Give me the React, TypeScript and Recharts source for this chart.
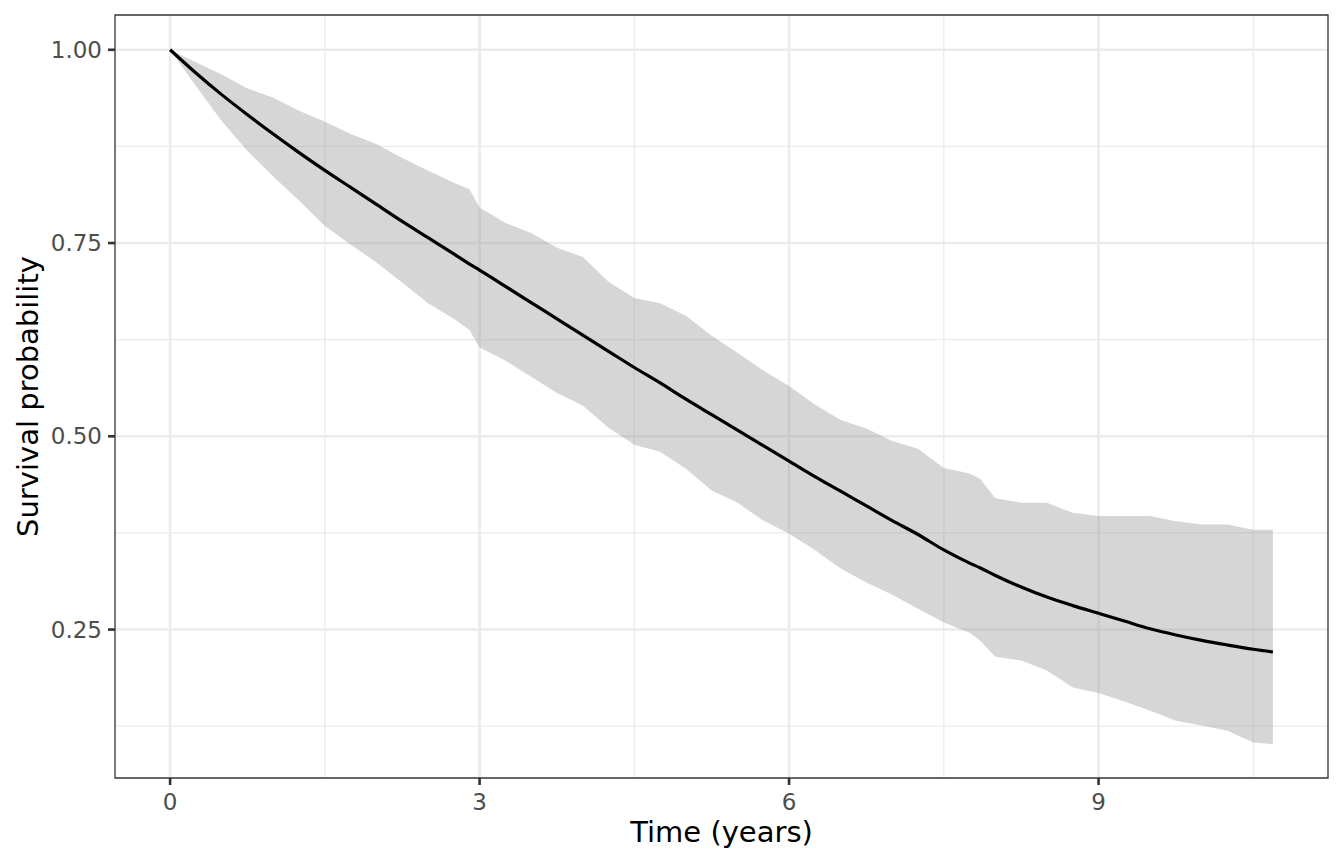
import {
  ComposedChart,
  Area,
  Line,
  XAxis,
  YAxis,
  CartesianGrid,
  ReferenceArea,
  Label,
} from "recharts";

// Survival fit with 95% band
const TIME = [
  0, 0.25, 0.5, 0.75, 1, 1.25, 1.5, 1.75, 2, 2.25, 2.5, 2.75, 2.9, 3, 3.25,
  3.5, 3.75, 4, 4.25, 4.5, 4.75, 5, 5.25, 5.5, 5.75, 6, 6.25, 6.5, 6.75, 7,
  7.25, 7.5, 7.75, 7.85, 8, 8.25, 8.5, 8.75, 9, 9.25, 9.5, 9.75, 10, 10.25,
  10.5, 10.69,
];
const ESTIMATE = [
  1, 0.97, 0.942, 0.916, 0.891, 0.867, 0.844, 0.822, 0.8, 0.778, 0.757, 0.736,
  0.723, 0.715, 0.694, 0.673, 0.652, 0.631, 0.61, 0.589, 0.569, 0.548, 0.528,
  0.508, 0.488, 0.468, 0.448, 0.429, 0.41, 0.391, 0.373, 0.353, 0.336, 0.33,
  0.32, 0.305, 0.292, 0.281, 0.271, 0.261, 0.251, 0.243, 0.236, 0.23, 0.2245,
  0.221,
];
const LOWER = [
  1, 0.953, 0.908, 0.869, 0.836, 0.805, 0.772, 0.748, 0.725, 0.699, 0.672,
  0.652, 0.638, 0.615, 0.598, 0.577, 0.556, 0.54, 0.511, 0.489, 0.48, 0.458,
  0.43, 0.414, 0.391, 0.374, 0.353, 0.329, 0.311, 0.295, 0.277, 0.259, 0.246,
  0.236, 0.215, 0.21, 0.197, 0.175, 0.168, 0.157, 0.145, 0.132, 0.126, 0.119,
  0.104, 0.102,
];
const UPPER = [
  1, 0.984, 0.968, 0.95, 0.938, 0.921, 0.907, 0.891, 0.878, 0.86, 0.844, 0.828,
  0.82, 0.796, 0.776, 0.763, 0.744, 0.732, 0.7, 0.679, 0.672, 0.656, 0.63,
  0.608, 0.585, 0.565, 0.541, 0.521, 0.51, 0.494, 0.484, 0.459, 0.452, 0.445,
  0.42, 0.414, 0.414, 0.401, 0.397, 0.397, 0.397, 0.39, 0.386, 0.386, 0.379,
  0.379,
];

const X_TICKS = [0, 3, 6, 9];
const X_MINOR = [1.5, 4.5, 7.5, 10.5];
const Y_TICKS = [0.25, 0.5, 0.75, 1];
const Y_MINOR = [0.125, 0.375, 0.625, 0.875];
const X_DOMAIN = [-0.534, 11.224];
const Y_DOMAIN = [0.058, 1.045];

const data = TIME.map((t, i) => ({
  time: t,
  estimate: ESTIMATE[i],
  band: [LOWER[i], UPPER[i]],
}));

const FONT = "'DejaVu Sans', sans-serif";
const tickStyle = { fill: "#4d4d4d", fontSize: 23, fontFamily: FONT };
const tickLine = { stroke: "#333333", strokeWidth: 2.6 };

export default function App() {
  return (
    <div style={{ position: "absolute", left: 0, top: 0, background: "#fff" }}>
      <ComposedChart
        width={1344}
        height={864}
        data={data}
        margin={{ top: 15, right: 16, bottom: 0, left: 0 }}
      >
        <CartesianGrid
          stroke="#ebebeb"
          strokeWidth={1.3}
          verticalValues={X_MINOR}
          horizontalValues={Y_MINOR}
        />
        <CartesianGrid
          stroke="#ebebeb"
          strokeWidth={2.6}
          verticalValues={X_TICKS}
          horizontalValues={Y_TICKS}
        />
        <XAxis
          dataKey="time"
          type="number"
          domain={X_DOMAIN}
          allowDataOverflow
          ticks={X_TICKS}
          height={86}
          tick={tickStyle}
          tickSize={7}
          tickMargin={9}
          tickLine={tickLine}
          axisLine={false}
        >
          <Label
            value="Time (years)"
            position="insideBottom"
            offset={22}
            style={{ fill: "#000", fontSize: 29, fontFamily: FONT }}
          />
        </XAxis>
        <YAxis
          type="number"
          domain={Y_DOMAIN}
          allowDataOverflow
          ticks={Y_TICKS}
          tickFormatter={(v) => v.toFixed(2)}
          width={115}
          tick={tickStyle}
          tickSize={7}
          tickMargin={6}
          tickLine={tickLine}
          axisLine={false}
        >
          <Label
            value="Survival probability"
            angle={-90}
            position="insideLeft"
            offset={28}
            style={{
              fill: "#000",
              fontSize: 29,
              fontFamily: FONT,
              textAnchor: "middle",
            }}
          />
        </YAxis>
        <Area
          dataKey="band"
          type="linear"
          stroke="none"
          fill="#999999"
          fillOpacity={0.4}
          isAnimationActive={false}
        />
        <Line
          dataKey="estimate"
          type="monotone"
          stroke="#000000"
          strokeWidth={3.2}
          dot={false}
          isAnimationActive={false}
        />
        <ReferenceArea
          x1={X_DOMAIN[0]}
          x2={X_DOMAIN[1]}
          y1={Y_DOMAIN[0]}
          y2={Y_DOMAIN[1]}
          fill="none"
          stroke="#333333"
          strokeWidth={1.3}
          ifOverflow="visible"
        />
      </ComposedChart>
    </div>
  );
}
